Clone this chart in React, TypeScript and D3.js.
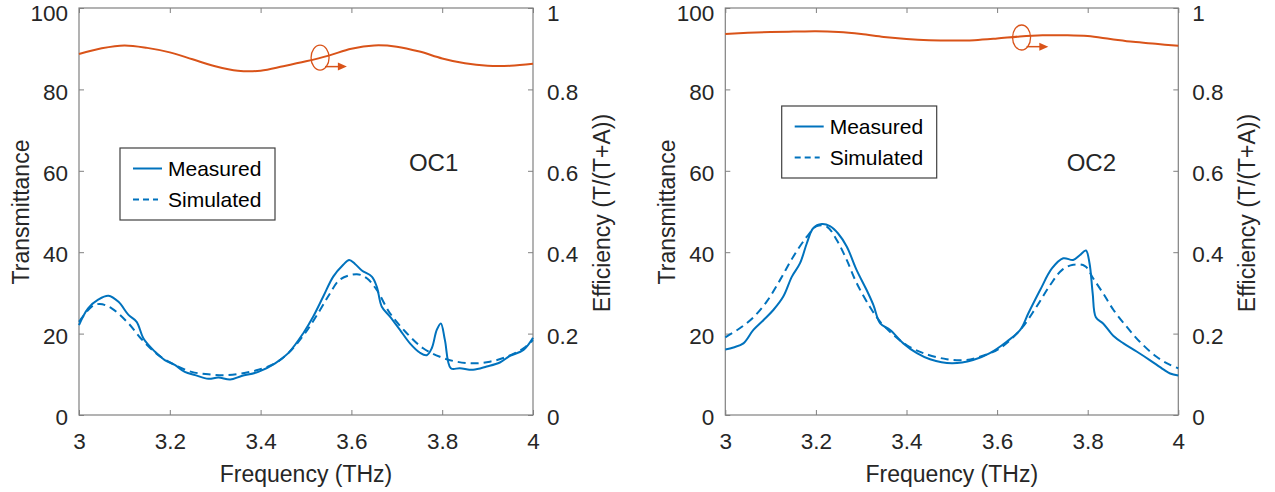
import React, { useEffect, useRef } from 'react';
import * as d3 from 'd3';

// tick values
const freqTicks = [3, 3.2, 3.4, 3.6, 3.8, 4];
const transTicks = [0, 20, 40, 60, 80, 100];
const effTicks = [0, 0.2, 0.4, 0.6, 0.8, 1];

// efficiency T/(T+A), right axis
const effFreq = [3.0, 3.05, 3.1, 3.15, 3.2, 3.25, 3.3, 3.35, 3.4, 3.45, 3.5, 3.55, 3.6, 3.65, 3.7, 3.75, 3.8, 3.85, 3.9, 3.95, 4.0];
const oc1Eff = [0.887, 0.901, 0.908, 0.902, 0.891, 0.874, 0.857, 0.846, 0.846, 0.857, 0.869, 0.883, 0.9, 0.908, 0.905, 0.893, 0.876, 0.864, 0.858, 0.858, 0.863];
const oc2Eff = [0.936, 0.939, 0.941, 0.942, 0.943, 0.941, 0.936, 0.929, 0.924, 0.921, 0.92, 0.921, 0.925, 0.93, 0.933, 0.933, 0.931, 0.924, 0.917, 0.912, 0.907];

// OC1 transmittance
const oc1MeasFreq = [3.0, 3.02, 3.043, 3.065, 3.087, 3.109, 3.127, 3.142, 3.167, 3.189, 3.211, 3.233, 3.256, 3.285, 3.307, 3.333, 3.358, 3.395, 3.432, 3.461, 3.494, 3.516, 3.538, 3.56, 3.582, 3.595, 3.608, 3.623, 3.645, 3.656, 3.667, 3.685, 3.707, 3.729, 3.751, 3.766, 3.777, 3.788, 3.797, 3.806, 3.819, 3.839, 3.868, 3.898, 3.927, 3.949, 3.979, 4.0];
const oc1Meas = [22.1, 26.2, 28.4, 29.3, 27.8, 24.6, 22.9, 18.8, 15.6, 13.5, 12.3, 10.6, 9.8, 8.9, 9.2, 8.7, 9.6, 10.6, 12.7, 15.2, 20.1, 24.2, 29.1, 34.0, 36.9, 38.1, 37.1, 35.5, 34.0, 31.5, 26.6, 24.2, 20.9, 17.6, 15.3, 14.7, 16.4, 20.9, 22.5, 18.4, 11.5, 11.5, 11.1, 11.9, 12.9, 14.5, 16.0, 19.0];
const oc1SimFreq = [3.0, 3.028, 3.046, 3.072, 3.109, 3.138, 3.175, 3.211, 3.248, 3.285, 3.322, 3.358, 3.395, 3.432, 3.461, 3.498, 3.531, 3.553, 3.575, 3.612, 3.634, 3.656, 3.685, 3.722, 3.758, 3.795, 3.832, 3.868, 3.905, 3.942, 3.979, 4.0];
const oc1Sim = [22.9, 26.6, 27.3, 26.2, 22.5, 18.6, 14.7, 12.3, 10.6, 10.0, 9.8, 10.2, 11.1, 12.7, 15.2, 20.1, 25.8, 29.9, 33.3, 34.6, 33.6, 30.7, 25.0, 20.1, 16.4, 14.3, 13.1, 12.7, 13.1, 14.3, 16.4, 18.4];

// OC2 transmittance
const oc2MeasFreq = [3.0, 3.018, 3.04, 3.062, 3.084, 3.106, 3.128, 3.147, 3.165, 3.18, 3.194, 3.213, 3.231, 3.249, 3.268, 3.29, 3.312, 3.327, 3.342, 3.364, 3.393, 3.423, 3.452, 3.5, 3.547, 3.584, 3.621, 3.651, 3.669, 3.695, 3.721, 3.746, 3.768, 3.783, 3.796, 3.804, 3.811, 3.818, 3.834, 3.857, 3.879, 3.908, 3.937, 3.967, 3.982, 4.0];
const oc2Meas = [16.1, 16.6, 17.6, 20.9, 23.3, 25.8, 29.1, 34.0, 37.3, 42.2, 45.9, 46.9, 46.4, 44.6, 41.4, 35.6, 30.7, 27.0, 22.5, 20.9, 17.6, 15.2, 13.7, 12.7, 13.5, 15.2, 18.0, 20.9, 25.0, 30.7, 36.0, 38.5, 38.1, 39.3, 40.4, 37.3, 29.9, 24.0, 22.5, 19.4, 17.6, 15.6, 13.5, 11.2, 10.2, 9.7];
const oc2SimFreq = [3.0, 3.032, 3.062, 3.091, 3.121, 3.15, 3.18, 3.202, 3.224, 3.246, 3.268, 3.29, 3.319, 3.342, 3.371, 3.4, 3.437, 3.489, 3.53, 3.562, 3.606, 3.651, 3.687, 3.717, 3.743, 3.768, 3.794, 3.812, 3.834, 3.857, 3.886, 3.915, 3.952, 3.982, 4.0];
const oc2Sim = [19.1, 21.3, 24.0, 27.8, 33.2, 38.9, 43.8, 46.4, 46.3, 43.0, 38.1, 32.4, 26.6, 22.9, 19.7, 17.2, 15.2, 13.7, 13.5, 14.3, 16.4, 20.9, 26.6, 31.9, 35.6, 36.9, 36.6, 33.6, 29.9, 25.8, 21.7, 18.0, 14.3, 12.3, 11.5];

const legendLabels = ['Measured', 'Simulated'];

const BLUE = '#0072BD';
const ORANGE = '#D95319';
const TEXT = '#262626';
const AXIS = '#808080';
const FONT = 'Arial, "Liberation Sans", Helvetica, sans-serif';

const panels = [
    {
        name: 'OC1', x0: 79, x1: 533,
        measF: oc1MeasFreq, meas: oc1Meas, simF: oc1SimFreq, sim: oc1Sim, eff: oc1Eff,
        marker: { f: 3.531, e: 0.878, arrowE: 0.856, arrowTo: 3.59 },
        nameAt: { f: 3.781, t: 60 },
        legend: { x: 120, y: 148 },
    },
    {
        name: 'OC2', x0: 725.3, x1: 1178.3,
        measF: oc2MeasFreq, meas: oc2Meas, simF: oc2SimFreq, sim: oc2Sim, eff: oc2Eff,
        marker: { f: 3.654, e: 0.9275, arrowE: 0.905, arrowTo: 3.713 },
        nameAt: { f: 3.808, t: 60 },
        legend: { x: 781.7, y: 106 },
    },
];

const top = 8;
const bottom = 415;

function App() {
    const svgRef = useRef(null);

    useEffect(() => {
        document.body.style.margin = '0';
        const svg = d3.select(svgRef.current);
        svg.selectAll('*').remove();

        panels.forEach(p => {
            const x = d3.scaleLinear().domain([3, 4]).range([p.x0, p.x1]);
            const yL = d3.scaleLinear().domain([0, 100]).range([bottom, top]);
            const yR = d3.scaleLinear().domain([0, 1]).range([bottom, top]);
            const g = svg.append('g');

            // bottom axis
            const bx = g.append('g')
                .attr('transform', `translate(0,${bottom})`)
                .call(d3.axisBottom(x).tickValues(freqTicks).tickFormat(d3.format('')).tickSizeInner(-5).tickSizeOuter(0).tickPadding(18.5));
            // top axis ticks
            const tx = g.append('g')
                .attr('transform', `translate(0,${top})`)
                .call(d3.axisTop(x).tickValues(freqTicks).tickFormat(() => '').tickSizeInner(-5).tickSizeOuter(0));
            // left axis
            const ly = g.append('g')
                .attr('transform', `translate(${p.x0},0)`)
                .call(d3.axisLeft(yL).tickValues(transTicks).tickSizeInner(-5).tickSizeOuter(0).tickPadding(11));
            // right axis
            const ry = g.append('g')
                .attr('transform', `translate(${p.x1},0)`)
                .call(d3.axisRight(yR).tickValues(effTicks).tickFormat(d3.format('')).tickSizeInner(-5).tickSizeOuter(0).tickPadding(14));

            [bx, tx, ly, ry].forEach(a => {
                a.select('.domain').remove();
                a.selectAll('line').attr('stroke', AXIS);
                a.selectAll('text')
                    .style('fill', TEXT)
                    .style('font-family', FONT)
                    .style('font-size', '22.5px');
            });
            // y tick labels sit a little lower than centre; the top one is kept inside the page
            [ly, ry].forEach(a => a.selectAll('text')
                .attr('dy', (d, i) => (i === 5 ? '0.56em' : '0.43em')));

            // box
            g.append('rect')
                .attr('x', p.x0).attr('y', top)
                .attr('width', p.x1 - p.x0).attr('height', bottom - top)
                .attr('fill', 'none').attr('stroke', AXIS).attr('stroke-width', 1.2);

            // efficiency
            g.append('path')
                .datum(p.eff.map((v, i) => [x(effFreq[i]), yR(v)] as [number, number]))
                .attr('fill', 'none').attr('stroke', ORANGE).attr('stroke-width', 2)
                .attr('d', d3.line().curve(d3.curveCatmullRom.alpha(0.5)));

            // simulated
            g.append('path')
                .datum(p.sim.map((v, i) => [x(p.simF[i]), yL(v)] as [number, number]))
                .attr('fill', 'none').attr('stroke', BLUE).attr('stroke-width', 2)
                .attr('stroke-dasharray', '8,5')
                .attr('d', d3.line().curve(d3.curveCatmullRom.alpha(0.5)));

            // measured
            g.append('path')
                .datum(p.meas.map((v, i) => [x(p.measF[i]), yL(v)] as [number, number]))
                .attr('fill', 'none').attr('stroke', BLUE).attr('stroke-width', 2)
                .attr('d', d3.line().curve(d3.curveCatmullRom.alpha(0.5)));

            // axis marker: ellipse + arrow pointing right
            const mx = x(p.marker.f);
            const my = yR(p.marker.e);
            g.append('ellipse')
                .attr('cx', mx).attr('cy', my).attr('rx', 9).attr('ry', 12.5)
                .attr('fill', 'none').attr('stroke', ORANGE).attr('stroke-width', 1.3);
            const ay = yR(p.marker.arrowE);
            const ax1 = x(p.marker.arrowTo);
            g.append('line')
                .attr('x1', mx + 5).attr('x2', ax1 - 6).attr('y1', ay).attr('y2', ay)
                .attr('stroke', ORANGE).attr('stroke-width', 1.5);
            g.append('path')
                .attr('d', `M${ax1},${ay} L${ax1 - 9},${ay - 4} L${ax1 - 9},${ay + 4} Z`)
                .attr('fill', ORANGE);

            // sample name
            g.append('text')
                .attr('x', x(p.nameAt.f)).attr('y', yL(p.nameAt.t))
                .attr('text-anchor', 'middle')
                .style('font-family', FONT).style('font-size', '24px').style('fill', TEXT)
                .text(p.name);

            // legend
            const lg = g.append('g').attr('transform', `translate(${p.legend.x},${p.legend.y})`);
            lg.append('rect')
                .attr('width', 155).attr('height', 72)
                .attr('fill', 'white').attr('stroke', '#404040').attr('stroke-width', 1.2);
            legendLabels.forEach((label, i) => {
                const yy = 20.5 + i * 31;
                lg.append('line')
                    .attr('x1', 13).attr('x2', i === 0 ? 42 : 38)
                    .attr('y1', yy).attr('y2', yy)
                    .attr('stroke', BLUE).attr('stroke-width', 2)
                    .attr('stroke-dasharray', i === 0 ? null : '6,4');
                lg.append('text')
                    .attr('x', 48).attr('y', yy).attr('dy', '0.36em')
                    .style('font-family', FONT).style('font-size', '21px').style('fill', 'black')
                    .text(label);
            });

            // axis labels
            g.append('text')
                .attr('x', (p.x0 + p.x1) / 2).attr('y', 482)
                .attr('text-anchor', 'middle')
                .style('font-family', FONT).style('font-size', '23px').style('fill', TEXT)
                .text('Frequency (THz)');
            g.append('text')
                .attr('transform', `translate(${p.x0 - 50},212) rotate(-90)`)
                .attr('text-anchor', 'middle')
                .style('font-family', FONT).style('font-size', '23px').style('fill', TEXT)
                .text('Transmittance');
            g.append('text')
                .attr('transform', `translate(${p.x1 + 77},213) rotate(-90)`)
                .attr('text-anchor', 'middle')
                .style('font-family', FONT).style('font-size', '23px').style('fill', TEXT)
                .text('Efficiency (T/(T+A))');
        });
    }, []);

    return (
        <svg ref={svgRef} width={1275} height={492} style={{ display: 'block', background: 'white' }}></svg>
    );
}

export default App;
